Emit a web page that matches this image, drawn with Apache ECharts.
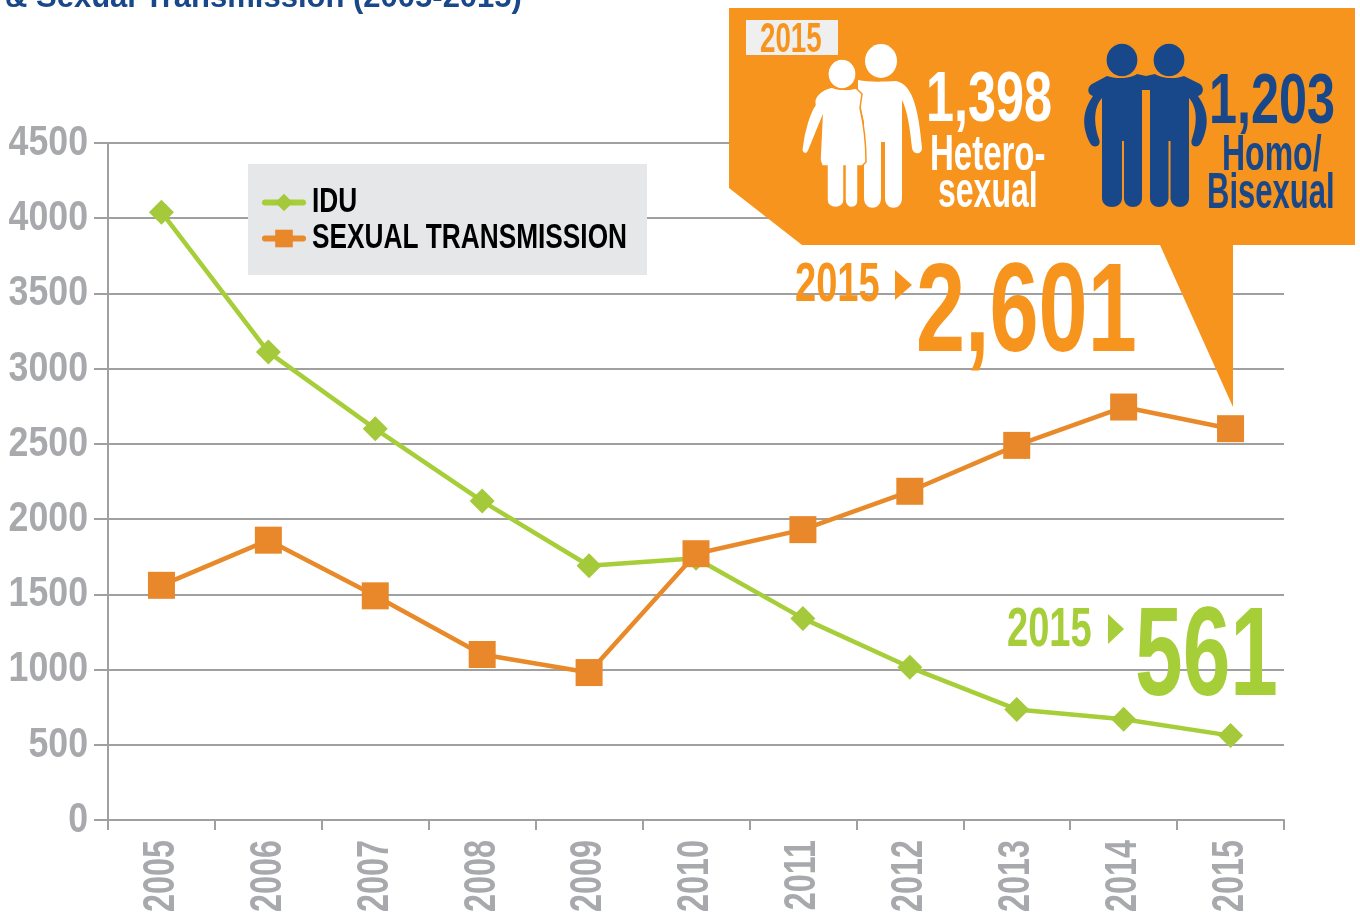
<!DOCTYPE html>
<html><head><meta charset="utf-8">
<style>html,body{margin:0;padding:0;background:#fff}#c{width:1360px;height:913px}</style>
<script src="https://cdn.jsdelivr.net/npm/echarts@6/dist/echarts.min.js"></script>
</head><body><div id="c"></div>
<script>
const years = ['2005','2006','2007','2008','2009','2010','2011','2012','2013','2014','2015'];
const idu = [4040,3110,2600,2120,1690,1740,1340,1015,735,670,561];
const sexual = [1560,1860,1490,1100,980,1770,1930,2185,2490,2745,2601];

const FONT = '"Liberation Sans"';
const ORANGE = '#f7941e', BLUE = '#19488a', GREEN = '#a6ce39', GREY = '#a7a9ac';

function t(text, x, yMid, size, color, sx) {
  return {type:'text', x:x, y:yMid, scaleX:sx, z:20,
    style:{text:text, fontFamily:FONT, fontWeight:'bold', fontSize:size, fill:color, align:'left', verticalAlign:'middle'}};
}
const shapes = {
  man: 'M858,80 C868,82 880,82 896,81 C914,84 919,115 922,148 C922,155 913,155 912,148 C910,130 908,112 902,100 L902,198 C902,211 885,211 885,198 L885,142 L881,142 L881,198 C881,211 864,211 864,198 L864,122 L858,95 Z',
  woman: 'M832,87 C838,90 850,90 856,88 L862,94 L860,108 C864,125 866,145 866,162 L862,166 L858,166 L858,200 C858,210 846,210 845,200 L845,166 L844,166 L844,200 C844,210 827,210 827,200 L827,166 L822,166 L820,160 L822,118 L809,150 C807,156 801,154 802,148 C804,130 810,112 815,105 C813,97 820,90 832,87 Z',
  bluePair: 'M1092,84 L1107,76 C1115,79 1130,79 1137,74 L1146,76 L1155,74 C1162,79 1177,79 1184,76 L1200,84 C1205,88 1203,95 1198,96 C1208,110 1210,125 1201,143 C1198,149 1189,147 1192,139 C1197,125 1198,108 1189,98 L1189,198 C1189,210 1171,210 1170.5,198 L1170.5,141 L1168.5,141 L1168.5,198 C1168,210 1150,210 1150,198 L1150,90 L1142,90 L1142,198 C1142,210 1124,210 1124,198 L1124,141 L1122,141 L1122,198 C1122,210 1102,210 1102,198 L1102,98 C1093,108 1094,125 1099,139 C1102,147 1093,149 1090,143 C1081,125 1083,110 1093,96 C1088,95 1086,88 1092,84 Z'
};
Object.keys(shapes).forEach(k => echarts.graphic.registerShape(k, echarts.graphic.extendPath(shapes[k], {})));
function path(name, fill, stroke){ return {type:name, z:19, shape:{}, style:{fill:fill, stroke:stroke||null, lineWidth:stroke?1.5:0}}; }
function head(cx,cy,r,fill,stroke){ return {type:'ellipse', z:19, shape:{cx:cx,cy:cy,rx:r,ry:r*1.06}, style:{fill:fill, stroke:stroke||null, lineWidth:stroke?1.2:0}}; }

const chart = echarts.init(document.getElementById('c'), null, {renderer:'canvas'});
chart.setOption({
  animation:false,
  backgroundColor:'#fff',
  title:{text:'& Sexual Transmission (2005-2015)', left:5, top:-17, padding:0,
    textStyle:{fontFamily:FONT, fontWeight:'bold', fontSize:31, color:BLUE}},
  grid:{left:108, right:76, top:143, bottom:93, containLabel:false, outerBoundsMode:'none'},
  legend:{left:248, top:164, orient:'vertical', align:'left',
    padding:[21,0,0,14], itemWidth:38, itemHeight:22, itemGap:1, z:5,
    lineStyle:{width:6, cap:'round'},
    data:['IDU','SEXUAL TRANSMISSION'],
    textStyle:{fontFamily:FONT, fontWeight:'bold', fontSize:35, color:'#000'}},
  xAxis:{type:'category', data:years, boundaryGap:true,
    axisLine:{lineStyle:{color:'#a0a0a0',width:2}},
    axisTick:{show:true, alignWithLabel:false, length:10, lineStyle:{color:'#a0a0a0',width:2}},
    axisLabel:{interval:0, rotate:90, margin:20, fontFamily:FONT, fontWeight:'bold', fontSize:45, color:GREY}},
  yAxis:{type:'value', min:0, max:4500, interval:500,
    axisLine:{show:true, lineStyle:{color:'#a0a0a0',width:2}},
    axisTick:{show:true, length:14, lineStyle:{color:'#a0a0a0',width:2}},
    splitLine:{lineStyle:{color:'#a0a0a0',width:2}},
    axisLabel:{margin:20, fontFamily:FONT, fontWeight:'bold', fontSize:43, color:GREY, formatter:v=>String(v)}},
  series:[
    {name:'IDU', type:'line', data:idu, symbol:'diamond', symbolSize:25,
     lineStyle:{color:GREEN,width:4.5}, itemStyle:{color:'#a4c93a'}, z:3},
    {name:'SEXUAL TRANSMISSION', type:'line', data:sexual, symbol:'rect', symbolSize:27,
     lineStyle:{color:'#e98a2a',width:4.5}, itemStyle:{color:'#e8882a'}, z:4}
  ],
  graphic:{elements:[
    {type:'rect', z:3, shape:{x:248,y:164,width:399,height:111}, style:{fill:'#e6e7e8'}},
    {type:'polygon', z:18, shape:{points:[[729,8],[1355,8],[1355,245],[1233,245],[1233,407],[1160,245],[802,245],[729,188]]}, style:{fill:ORANGE}},
    {type:'rect', z:19, shape:{x:746,y:20,width:92,height:35}, style:{fill:'#efefef'}},
    t('2015',760,40,42,ORANGE,0.66),
    path('man','#fff'), head(881,61,16,'#fff'),
    path('woman','#fff',ORANGE), head(842,74,14,'#fff',ORANGE),
    path('bluePair',BLUE), head(1122,60,16,BLUE,ORANGE), head(1169,60,16,BLUE,ORANGE),
    t('1,398',926,102,70,'#fff',0.72),
    t('Hetero-',930,156,50,'#fff',0.66),
    t('sexual',938,193,50,'#fff',0.64),
    t('1,203',1209,104,70,BLUE,0.72),
    t('Homo/',1222,156,50,BLUE,0.64),
    t('Bisexual',1207,194,50,BLUE,0.62),
    t('2015',795,286,56,ORANGE,0.68),
    {type:'polygon', z:19, shape:{points:[[895,270],[912,285],[895,300]]}, style:{fill:ORANGE}},
    t('2,601',916,316,126,ORANGE,0.70),
    t('2015',1007,631,56,GREEN,0.68),
    {type:'polygon', z:19, shape:{points:[[1108,614],[1124,629],[1108,644]]}, style:{fill:GREEN}},
    t('561',1135,660,126,GREEN,0.68)
  ]}
});

// The source type is very condensed and no condensed face is installed:
// narrow the library's own axis and legend labels along their text direction.
const zr = chart.getZr();
zr.storage.getDisplayList(true).forEach(el => {
  const s = el.style;
  if (!s || typeof s.text !== 'string') return;
  let k = 0, dx = 0;
  if (/^\d+$/.test(s.text) && s.fill === GREY) k = years.includes(s.text) ? 0.72 : 0.83;
  if (s.text === 'IDU' || s.text === 'SEXUAL TRANSMISSION') { k = 0.75; dx = 4; }
  if (!k) return;
  if (s.x) { el.x = (el.x || 0) + s.x; s.x = 0; }
  el.x += dx;
  el.scaleX = k;
  el.markRedraw();
});
zr.refreshImmediately();
</script></body></html>
